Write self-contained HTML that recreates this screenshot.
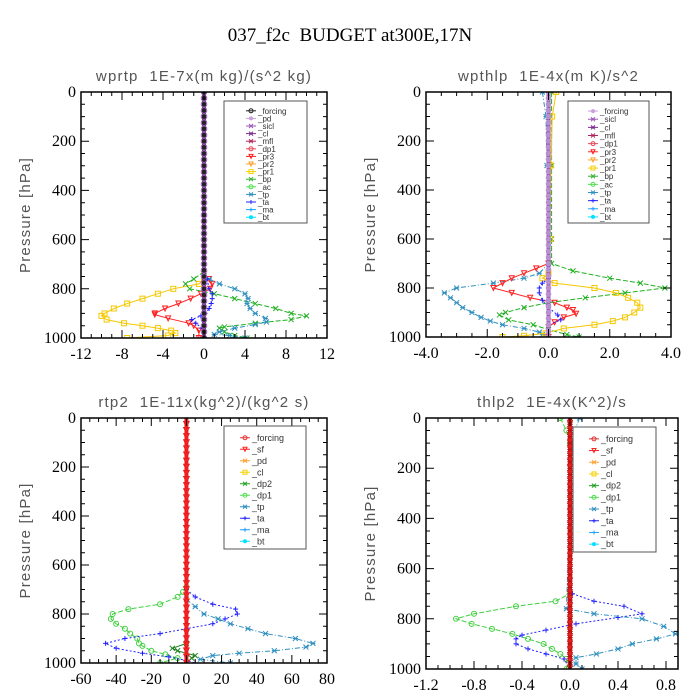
<!DOCTYPE html>
<html><head><meta charset="utf-8"><style>
html,body{margin:0;padding:0;background:#fff;}
svg{display:block;}
.tk{font-family:"Liberation Serif",serif;font-size:16px;fill:#000;}
.pt{font-family:"Liberation Sans",sans-serif;font-size:15px;fill:#555;white-space:pre;letter-spacing:1.2px;}
.lg{font-family:"Liberation Sans",sans-serif;fill:#333;}
</style></head><body>
<svg id="chart" width="700" height="700" viewBox="0 0 700 700" xmlns="http://www.w3.org/2000/svg">
<text x="350" y="41" text-anchor="middle" font-family="Liberation Serif,serif" font-size="19" style="white-space:pre">037_f2c  BUDGET at300E,17N</text>
</svg>
<script>
// ---- data (pressure in hPa, values in panel units) ----
const p1Title = "wprtp  1E-7x(m kg)/(s^2 kg)";
const p1Legend = ["_forcing","_pd","_sicl","_cl","_mfl","_dp1","_pr3","_pr2","_pr1","_bp","_ac","_tp","_ta","_ma","_bt"];
const p1_pr1_p = [760,780,800,820,840,860,880,900,910,925,940,950,960,970,980,990,1000];
const p1_pr1_v = [0,-0.5,-3,-4.5,-6,-7.5,-8.8,-9.7,-10,-9.5,-7.8,-6,-4.5,-3.2,-2.8,-3.5,-7.5];
const p1_pr3_p = [740,760,780,800,820,840,860,880,900,905,920,940,950,970,1000];
const p1_pr3_v = [0,0.5,0.8,0.6,-0.3,-1.3,-2.5,-3.8,-4.8,-4.8,-3.5,-1.5,-1,-0.5,-0.5];
const p1_bp_p = [730,760,780,800,820,840,860,880,900,910,925,940,955,960,975,990,1000];
const p1_bp_v = [0,-1,-1.8,-1.4,1,3,5,7,8.5,10,8.5,5,2,1.5,2,3,4.2];
const p1_tp_p = [760,780,800,820,840,860,880,900,920,935,945,960,975,985,990,1000];
const p1_tp_v = [0.5,1.5,3,4,4.3,4.2,4.5,5,6,6.1,5,3,1.5,1,2.5,4];
const p1_ta_p = [760,800,820,840,860,880,900,910,925,940,960,1000];
const p1_ta_v = [0.3,0.5,0.8,0.8,0.7,0.5,0.1,-0.3,-1.2,-0.8,-0.2,0];

const p2Title = "wpthlp  1E-4x(m K)/s^2";
const p2Legend = ["_forcing","_sicl","_cl","_mfl","_dp1","_pr3","_pr2","_pr1","_bp","_ac","_tp","_ta","_ma","_bt"];
const p2_tp_p = [0,100,300,700,740,760,780,800,820,840,860,880,900,920,935,950,965,980,990,1000];
const p2_tp_v = [-0.2,-0.08,-0.05,0,-0.3,-0.8,-1.8,-3,-3.4,-3.2,-3,-2.8,-2.5,-2.2,-1.9,-1.5,-0.8,-0.3,-0.2,0];
const p2_pr3_p = [700,720,740,760,780,800,820,840,860,880,890,905,920,940,960,1000];
const p2_pr3_v = [0,-0.4,-0.8,-1.2,-1.5,-1.8,-1.2,-0.6,0.2,0.6,0.8,0.9,0.5,0.2,0,0];
const p2_bp_p = [0,300,600,700,730,760,780,800,820,840,860,880,900,910,930,950,970,990,1000];
const p2_bp_v = [0.1,0.1,0.1,0.1,0.8,2,3,3.8,2.5,1.2,0,-0.8,-1.4,-1.6,-1.3,-0.5,0,0.6,1];
const p2_pr1_p = [0,100,300,600,740,760,780,800,820,840,860,880,900,920,935,950,965,985,995,1000];
const p2_pr1_v = [0.25,0.12,0.08,0.05,0,-0.2,0.2,1.5,2.2,2.6,2.9,3,2.8,2.5,2.1,1.5,0.5,-0.1,-0.8,-1.5];
const p2_ta_p = [760,780,800,820,850,880,910,930,950,1000];
const p2_ta_v = [0,-0.2,-0.3,-0.3,-0.2,0,0.3,0.4,0,0];

const p3Title = "rtp2  1E-11x(kg^2)/(kg^2 s)";
const p3Legend = ["_forcing","_sf","_pd","_cl","_dp2","_dp1","_tp","_ta","_ma","_bt"];
const p3_dp1_p = [690,710,730,760,780,800,820,840,860,880,900,920,930,950,965,980,1000];
const p3_dp1_v = [0,-2,-5,-15,-33,-42,-43,-40,-35,-32,-28,-27,-25,-20,-12,-5,-15];
const p3_dp2_p = [920,940,950,970,980,1000];
const p3_dp2_v = [0,-8,-5,5,3,0];
const p3_ta_p = [700,730,760,780,800,820,840,860,880,900,920,940,960,975,990,1000];
const p3_ta_v = [0,5,15,28,29,22,15,0,-15,-35,-46,-40,-25,-10,0,5];
const p3_tp_p = [740,770,800,820,840,860,880,900,920,935,950,960,970,985,1000];
const p3_tp_v = [0,5,10,18,25,35,45,62,72,68,50,30,15,8,25];

const p4Title = "thlp2  1E-4x(K^2)/s";
const p4Legend = ["_forcing","_sf","_pd","_cl","_dp2","_dp1","_tp","_ta","_ma","_bt"];
const p4_dp1_p = [0,50,100,700,730,750,780,800,820,840,860,880,900,920,940,960,1000];
const p4_dp1_v = [-0.08,-0.03,0,0,-0.12,-0.45,-0.8,-0.95,-0.82,-0.65,-0.48,-0.35,-0.22,-0.15,-0.08,-0.03,-0.03];
const p4_ta_p = [700,730,750,780,795,820,845,865,880,900,920,940,960,1000];
const p4_ta_v = [0.02,0.2,0.45,0.6,0.4,0.05,-0.2,-0.4,-0.45,-0.45,-0.35,-0.2,-0.05,0];
const p4_tp_p = [0,50,100,760,780,800,830,860,880,900,920,940,955,980,1000];
const p4_tp_v = [0.08,0.04,0.02,-0.03,0.2,0.6,0.78,0.88,0.72,0.52,0.4,0.22,0.05,0.05,0.1];

const zeroLevels = [];
for (let p = 0; p <= 1000; p += 25) zeroLevels.push(p);

// ---- drawing ----
const svg = document.getElementById('chart');
const NS = 'http://www.w3.org/2000/svg';
function mk(tag, attrs, parent) {
  const e = document.createElementNS(NS, tag);
  for (const k in attrs) e.setAttribute(k, attrs[k]);
  (parent || svg).appendChild(e);
  return e;
}
function marker(g, shape, x, y, color, s) {
  s = s || 2.5;
  let e;
  if (shape === 'o') e = mk('circle', {cx:x, cy:y, r:s, fill:'none', stroke:color, 'stroke-width':1}, g);
  else if (shape === 'O') e = mk('circle', {cx:x, cy:y, r:s, fill:color}, g);
  else if (shape === 's') e = mk('rect', {x:x-s, y:y-s, width:2*s, height:2*s, fill:'none', stroke:color, 'stroke-width':1}, g);
  else if (shape === 'x') e = mk('path', {d:`M${x-s},${y-s}L${x+s},${y+s}M${x-s},${y+s}L${x+s},${y-s}`, stroke:color, 'stroke-width':1}, g);
  else if (shape === '+') e = mk('path', {d:`M${x-s},${y}L${x+s},${y}M${x},${y-s}L${x},${y+s}`, stroke:color, 'stroke-width':1}, g);
  else if (shape === 't') e = mk('path', {d:`M${x-s},${y-s}L${x+s},${y-s}L${x},${y+s}Z`, fill:'none', stroke:color, 'stroke-width':1}, g);
  else e = mk('path', {d:`M${x-s},${y-s}L${x+s},${y+s}M${x-s},${y+s}L${x+s},${y-s}M${x-s},${y}L${x+s},${y}`, stroke:color, 'stroke-width':1}, g);
  
  
}

function panel(cfg) {
  const g = mk('g', {});
  
  
  const {L, R, T, B, xmin, xmax} = cfg;
  const xs = v => L + (v - xmin) / (xmax - xmin) * (R - L);
  const ys = p => T + p / 1000 * (B - T);
  const t = mk('text', {x:(L+R)/2, y:T-11, 'text-anchor':'middle', class:'pt'}, g);
  t.textContent = cfg.title;
  
  
  const yl = mk('text', {x:0, y:0, 'text-anchor':'middle', class:'pt', 'font-size':16, transform:`translate(${cfg.ylx},${(T+B)/2}) rotate(-90)`}, g);
  yl.textContent = 'Pressure [hPa]';
  
  
  const cid = cfg.name + '-clip';
  const cp = mk('clipPath', {id:cid}, g);
  mk('rect', {x:L, y:T, width:R-L, height:B-T}, cp);
  const dg = mk('g', {'clip-path':`url(#${cid})`}, g);
  cfg.series.forEach(s => {
    const pts = s.p.map((p, i) => xs(s.v[i]).toFixed(1) + ',' + ys(p).toFixed(1)).join(' ');
    const pl = mk('polyline', {points:pts, fill:'none', stroke:s.c, 'stroke-width':1, 'stroke-dasharray':s.d || 'none'}, dg);
    
    
    s.p.forEach((p, i) => marker(dg, s.m, xs(s.v[i]), ys(p), s.c));
  });
  const zx = xs(0);
  const zl = mk('line', {x1:zx, x2:zx, y1:T, y2:B, stroke:cfg.zc, 'stroke-width':4}, dg);
  
  
  zeroLevels.forEach(p => marker(dg, cfg.zm, zx, ys(p), cfg.zmc, 2.8));
  const fr = mk('rect', {x:L, y:T, width:R-L, height:B-T, fill:'none', stroke:'#000', 'stroke-width':1.5}, g);
  
  
  for (let p = 0; p <= 1000; p += 50) {
    const y = ys(p), len = p % 200 === 0 ? 8 : 4;
    mk('path', {d:`M${L},${y}h${len}M${R},${y}h${-len}`, stroke:'#000', 'stroke-width':1}, g);
    if (p % 200 === 0) {
      const tl = mk('text', {x:L-5, y:y+5, 'text-anchor':'end', class:'tk'}, g);
      tl.textContent = p;
      
      
    }
  }
  const nMinor = Math.round((xmax - xmin) / cfg.minor);
  for (let i = 0; i <= nMinor; i++) {
    const v = xmin + i * cfg.minor, x = xs(v);
    const isMaj = Math.abs(((v - xmin) / cfg.major) - Math.round((v - xmin) / cfg.major)) < 1e-6;
    const len = isMaj ? 8 : 4;
    mk('path', {d:`M${x},${B}v${-len}M${x},${T}v${len}`, stroke:'#000', 'stroke-width':1}, g);
  }
  cfg.labels.forEach(v => {
    const tl = mk('text', {x:xs(v), y:B+21, 'text-anchor':'middle', class:'tk'}, g);
    tl.textContent = v.toFixed(cfg.dec);
    
    
  });
  const lb = cfg.lbox;
  const lr = mk('rect', {x:lb[0], y:lb[1], width:lb[2]-lb[0], height:lb[3]-lb[1], fill:'#fff', stroke:'#555', 'stroke-width':1}, g);
  
  
  const n = cfg.legend.length, step = (lb[3] - lb[1] - 8) / n;
  cfg.legend.forEach((name, i) => {
    const y = lb[1] + 6 + step * (i + 0.5);
    const c = cfg.lcol[i];
    const lx = lb[0] + cfg.lpad;
    mk('line', {x1:lx, x2:lx+10, y1:y, y2:y, stroke:c, 'stroke-width':1}, g);
    marker(g, cfg.lmk[i], lx+5, y, c, 2);
    const tx = mk('text', {x:lx+12, y:y+3, class:'lg', 'font-size':cfg.lfs}, g);
    tx.textContent = name;
    
    
  });
}

const colsA = ['#222','#c9a0dc','#9b59b6','#7b2d8b','#b0245a','#e8455a','#ff2020','#ffa030','#f5d000','#30b030','#50e050','#3090c0','#2020ff','#20a0ff','#00e0ff'];
const mksA = ['o','O','*','*','*','o','t','t','s','x','o','*','+','+','O'];

panel({name:'panel-wprtp', title:p1Title, ylx:30, L:81, R:327, T:92, B:338, xmin:-12, xmax:12, major:4, minor:1, dec:0,
  labels:[-12,-8,-4,0,4,8,12], zc:'#222', zm:'o', zmc:'#9b59b6',
  series:[
    {n:'pr1', p:p1_pr1_p, v:p1_pr1_v, c:'#f5c800', m:'s'},
    {n:'pr3', p:p1_pr3_p, v:p1_pr3_v, c:'#ff2020', m:'t'},
    {n:'bp', p:p1_bp_p, v:p1_bp_v, c:'#20b020', m:'x', d:'5,2'},
    {n:'tp', p:p1_tp_p, v:p1_tp_v, c:'#3090c0', m:'*', d:'5,2,1,2'},
    {n:'ta', p:p1_ta_p, v:p1_ta_v, c:'#2020ff', m:'+', d:'2,2'}],
  legend:p1Legend, lcol:colsA, lmk:mksA, lbox:[224,101,307,223], lpad:22, lfs:8});

panel({name:'panel-wpthlp', title:p2Title, ylx:375, L:426, R:671, T:92, B:337, xmin:-4, xmax:4, major:2, minor:0.5, dec:1,
  labels:[-4,-2,0,2,4], zc:'#9b59b6', zm:'O', zmc:'#b890d0',
  series:[
    {n:'tp', p:p2_tp_p, v:p2_tp_v, c:'#3090c0', m:'*', d:'5,2,1,2'},
    {n:'pr3', p:p2_pr3_p, v:p2_pr3_v, c:'#ff2020', m:'t'},
    {n:'bp', p:p2_bp_p, v:p2_bp_v, c:'#20b020', m:'x', d:'5,2'},
    {n:'pr1', p:p2_pr1_p, v:p2_pr1_v, c:'#f5c800', m:'s'},
    {n:'ta', p:p2_ta_p, v:p2_ta_v, c:'#2020ff', m:'+', d:'2,2'}],
  legend:p2Legend, lcol:colsA.slice(1), lmk:mksA.slice(1), lbox:[568,101,649,223], lpad:20, lfs:8});

const colsB = ['#e83030','#ff2020','#ffa030','#f5d000','#20a020','#50e050','#3090c0','#2020ff','#20a0ff','#00e0ff'];
const mksB = ['o','t','*','s','x','o','*','+','+','O'];

panel({name:'panel-rtp2', title:p3Title, ylx:30, L:81, R:327, T:418, B:663, xmin:-60, xmax:80, major:20, minor:5, dec:0,
  labels:[-60,-40,-20,0,20,40,60,80], zc:'#ff2020', zm:'t', zmc:'#e02020',
  series:[
    {n:'dp1', p:p3_dp1_p, v:p3_dp1_v, c:'#40d040', m:'o', d:'5,2'},
    {n:'dp2', p:p3_dp2_p, v:p3_dp2_v, c:'#208020', m:'x'},
    {n:'ta', p:p3_ta_p, v:p3_ta_v, c:'#2020ff', m:'+', d:'2,2'},
    {n:'tp', p:p3_tp_p, v:p3_tp_v, c:'#3090c0', m:'*', d:'5,2,1,2'}],
  legend:p3Legend, lcol:colsB, lmk:mksB, lbox:[224,426,306,549], lpad:16, lfs:9});

panel({name:'panel-thlp2', title:p4Title, ylx:375, L:426, R:678, T:418, B:669, xmin:-1.2, xmax:0.9, major:0.4, minor:0.1, dec:1,
  labels:[-1.2,-0.8,-0.4,0,0.4,0.8], zc:'#e02020', zm:'*', zmc:'#c01010',
  series:[
    {n:'dp1', p:p4_dp1_p, v:p4_dp1_v, c:'#40d040', m:'o', d:'5,2'},
    {n:'ta', p:p4_ta_p, v:p4_ta_v, c:'#2020ff', m:'+', d:'2,2'},
    {n:'tp', p:p4_tp_p, v:p4_tp_v, c:'#3090c0', m:'*', d:'5,2,1,2'}],
  legend:p4Legend, lcol:colsB, lmk:mksB, lbox:[573,427,656,552], lpad:16, lfs:9});
</script>
</body></html>
